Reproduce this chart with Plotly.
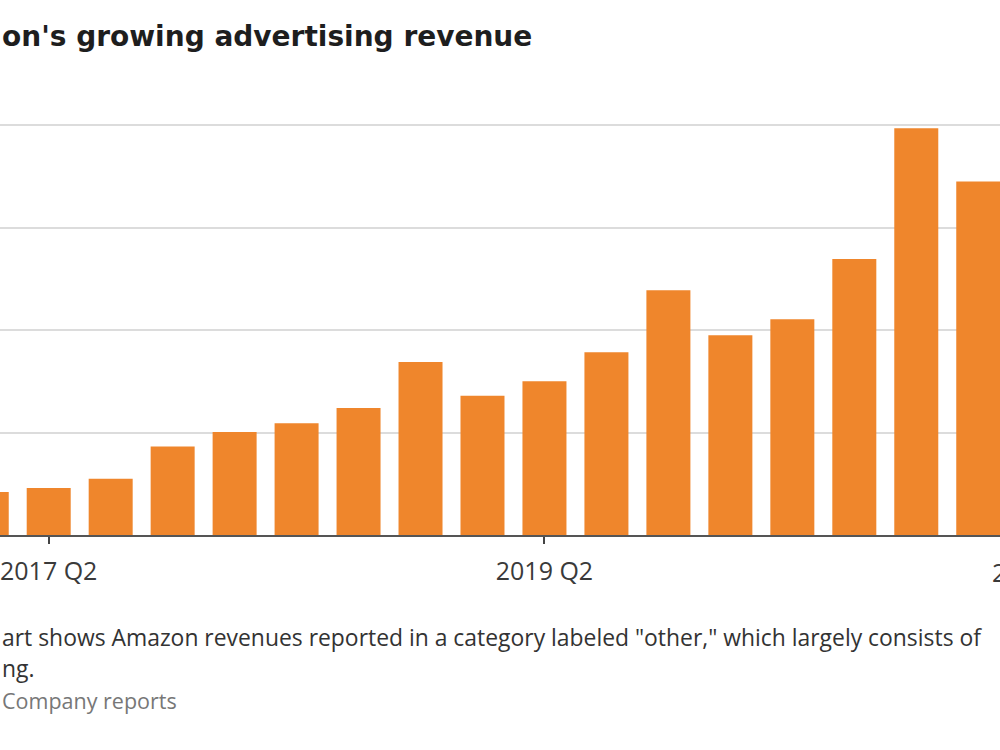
import plotly.graph_objects as go

quarters = ["2017 Q1", "2017 Q2", "2017 Q3", "2017 Q4",
            "2018 Q1", "2018 Q2", "2018 Q3", "2018 Q4",
            "2019 Q1", "2019 Q2", "2019 Q3", "2019 Q4",
            "2020 Q1", "2020 Q2", "2020 Q3", "2020 Q4",
            "2021 Q1"]
revenue_bn = [0.84, 0.92, 1.10, 1.73,
              2.01, 2.18, 2.48, 3.38,
              2.72, 3.00, 3.57, 4.78,
              3.90, 4.21, 5.39, 7.94,
              6.90]
tick_labels = ["2017 Q2", "2019 Q2", "2021 Q2"]
tick_positions = [1, 9, 17]  # quarter index of each tick label

# Text as visible in the (cropped) reference image
title_text = "on's growing advertising revenue"
caption_line1 = 'art shows Amazon revenues reported in a category labeled "other," which largely consists of'
caption_line2 = "ng."
source_text = "Company reports"

FONT = "Open Sans, Lato, sans-serif"
TITLE_FONT = "DejaVu Sans, Open Sans, sans-serif"
x_idx = list(range(len(quarters)))
x_range = [0.214, 16.351]

fig = go.Figure(go.Bar(
    x=x_idx, y=revenue_bn,
    marker=dict(color="#EF862C", line=dict(width=0)),
    customdata=quarters,
    hovertemplate="%{customdata}: $%{y}B<extra></extra>",
))

fig.update_layout(
    width=1000, height=750,
    margin=dict(l=0, r=0, t=115, b=215),
    paper_bgcolor="white", plot_bgcolor="white",
    bargap=0.29,
    showlegend=False,
    font=dict(family=FONT, color="#333"),
)
tick_font = dict(size=25, color="#3A3A3A", family=FONT)
fig.update_xaxes(
    range=x_range,
    tickmode="array", tickvals=tick_positions, ticktext=tick_labels,
    ticks="outside", ticklen=7, tickwidth=1.5, tickcolor="#444",
    tickfont=tick_font,
    ticklabelstandoff=6,
    ticklabeloverflow="allow",
    showline=True, linecolor="#555", linewidth=1.5,
    showgrid=False, zeroline=False,
)
fig.update_yaxes(
    range=[0, 8.2], tickvals=[0, 2, 4, 6, 8],
    showticklabels=False, ticks="",
    showgrid=True, gridcolor="#DCDCDC", gridwidth=1.5,
    zeroline=False,
)

# tick labels that lie beyond the visible axis range (cropped at the right edge)
for pos, lab in zip(tick_positions, tick_labels):
    if pos > x_range[1]:
        fig.add_annotation(text=lab, xref="paper", yref="paper",
                           x=(pos - x_range[0]) / (x_range[1] - x_range[0]),
                           y=-0.0885, xanchor="center", yanchor="middle",
                           showarrow=False, font=tick_font)

fig.add_annotation(text=title_text, xref="paper", yref="paper",
                   x=0.0, y=1.188, xanchor="left", yanchor="middle",
                   showarrow=False,
                   font=dict(size=28, color="#1E1E1E", family=TITLE_FONT, weight="bold"))
fig.add_annotation(text=caption_line1, xref="paper", yref="paper",
                   x=0.0, y=-0.2452, xanchor="left", yanchor="middle",
                   showarrow=False, font=dict(size=22.9, color="#333", family=FONT))
fig.add_annotation(text=caption_line2, xref="paper", yref="paper",
                   x=0.0, y=-0.319, xanchor="left", yanchor="middle",
                   showarrow=False, font=dict(size=22.9, color="#333", family=FONT))
fig.add_annotation(text=source_text, xref="paper", yref="paper",
                   x=0.0, y=-0.3952, xanchor="left", yanchor="middle",
                   showarrow=False, font=dict(size=21.5, color="#777", family=FONT))

fig.write_html("out.html")
